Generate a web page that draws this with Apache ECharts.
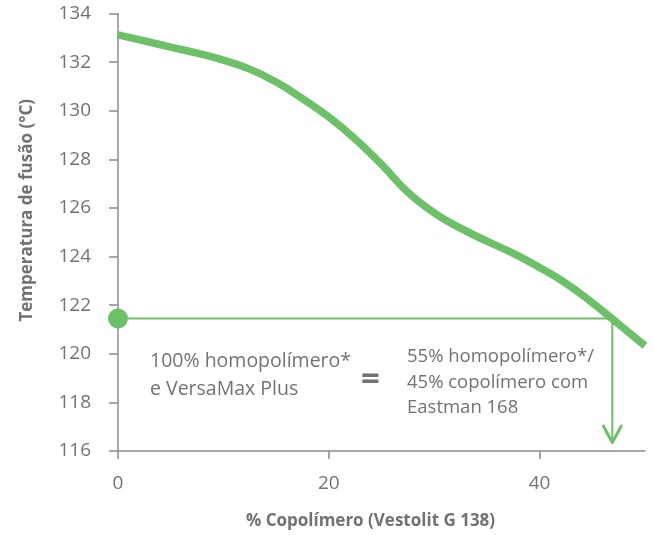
<!DOCTYPE html>
<html>
<head>
<meta charset="utf-8">
<script src="https://cdn.jsdelivr.net/npm/echarts@6/dist/echarts.min.js"></script>
<style>
  html, body { margin: 0; padding: 0; background: #fff; }
  #main { width: 654px; height: 535px; }
</style>
</head>
<body>
<div id="main"></div>
<script>
  // % copolímero (x) vs temperatura de fusão (y)
  const copolymerPct = [0, 2.5, 5, 7.5, 10, 12.5, 15, 17.5, 20, 22.5, 25, 27.5, 30, 32.5, 35, 37.5, 40, 42.5, 45, 47.5, 50]
  const meltTemp = [133.12, 132.87, 132.62, 132.37, 132.08, 131.71, 131.18, 130.5, 129.74, 128.84, 127.79, 126.65, 125.8, 125.17, 124.63, 124.13, 123.55, 122.9, 122.1, 121.22, 120.33]

  // reference reading: 100% homopolymer + VersaMax Plus
  const refTemp = 121.45
  const refPct = 46.9
  const arrowTipTemp = 116.35
  const arrowArm = { dx: 0.85, dy: 0.68 }

  const xTicks = [0, 20, 40]
  const yTicks = [116, 118, 120, 122, 124, 126, 128, 130, 132, 134]

  const green = '#6cc067'
  const grey = '#727272'
  const axisGrey = '#8c8c8c'
  const font = '"Open Sans", "Noto Sans", sans-serif'

  const chart = echarts.init(document.getElementById('main'))
  const option = {
    animation: false,
    grid: { left: 118, right: 9, top: 13.5, bottom: 84, outerBoundsMode: 'none' },
    xAxis: {
      type: 'value',
      min: xTicks[0],
      max: 50,
      interval: 20,
      name: '% Copolímero (Vestolit G 138)',
      nameLocation: 'middle',
      nameGap: 62,
      nameTextStyle: { color: grey, fontSize: 17, fontWeight: 'bold', fontFamily: font, padding: [0, 22, 0, 0] },
      splitLine: { show: false },
      axisLine: { lineStyle: { color: axisGrey, width: 1.5 } },
      axisTick: { length: 8, lineStyle: { color: axisGrey, width: 1.5 } },
      axisLabel: { color: grey, fontSize: 19, fontFamily: font, margin: 23, showMaxLabel: false }
    },
    yAxis: {
      type: 'value',
      min: yTicks[0],
      max: yTicks[yTicks.length - 1],
      interval: 2,
      name: 'Temperatura de fusão (°C)',
      nameLocation: 'middle',
      nameGap: 82,
      nameTextStyle: { color: grey, fontSize: 17, fontWeight: 'bold', fontFamily: font, padding: [0, 0, 0, 44] },
      splitLine: { show: false },
      axisLine: { show: true, lineStyle: { color: axisGrey, width: 1.5 } },
      axisTick: { show: true, length: 9, lineStyle: { color: axisGrey, width: 1.5 } },
      axisLabel: { color: grey, fontSize: 19, fontFamily: font, margin: 27 }
    },
    series: [
      {
        type: 'line',
        smooth: true,
        showSymbol: false,
        lineStyle: { color: green, width: 7.5 },
        data: copolymerPct.map((x, i) => [x, meltTemp[i]])
      },
      {
        type: 'line',
        showSymbol: false,
        clip: false,
        lineStyle: { color: green, width: 2 },
        data: [[0, refTemp], [refPct, refTemp], [refPct, arrowTipTemp]]
      },
      {
        type: 'line',
        showSymbol: false,
        clip: false,
        lineStyle: { color: green, width: 3, cap: 'round', join: 'round' },
        data: [
          [refPct - arrowArm.dx, arrowTipTemp + arrowArm.dy],
          [refPct, arrowTipTemp],
          [refPct + arrowArm.dx, arrowTipTemp + arrowArm.dy]
        ]
      },
      {
        type: 'scatter',
        clip: false,
        symbolSize: 20,
        itemStyle: { color: green, opacity: 1 },
        data: [[0, refTemp]]
      }
    ],
    graphic: [
      {
        type: 'text',
        left: 150,
        top: 348,
        style: {
          text: '100% homopolímero*\ne VersaMax Plus',
          fill: grey,
          font: '19.5px ' + font,
          lineHeight: 27.5
        }
      },
      {
        type: 'text',
        left: 361,
        top: 364,
        style: { text: '=', fill: grey, font: 'bold 33px ' + font }
      },
      {
        type: 'text',
        left: 407,
        top: 344,
        style: {
          text: '55% homopolímero*/\n45% copolímero com\nEastman 168',
          fill: grey,
          font: '18.5px ' + font,
          lineHeight: 25.5
        }
      }
    ]
  }
  option && chart.setOption(option)
  window.onresize = () => chart.resize()
</script>
</body>
</html>
